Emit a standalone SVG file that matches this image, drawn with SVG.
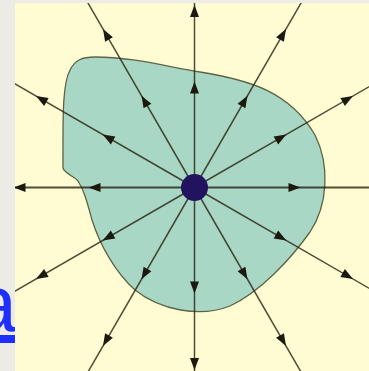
<svg xmlns="http://www.w3.org/2000/svg" width="369" height="371" viewBox="0 0 369 371">
  <defs>
    <style>
      .ray { stroke: #2a2614; stroke-opacity: 0.82; stroke-width: 1.5; fill: none; }
      .ray.h { stroke-width: 2.2; }
      .ah { fill: #1c1a10; }
      .link { font-family: "Liberation Sans", Arial, sans-serif; font-size: 80px; fill: #1f2fff; text-decoration: underline; }
    </style>
    <path id="ah" d="M6,0 L-6,-4.5 L-6,4.5 Z"/>
    <clipPath id="panel"><rect x="15" y="3" width="354" height="368"/></clipPath>
  </defs>

  <rect x="0" y="0" width="369" height="371" fill="#ecebe5"/>
  <text class="link" x="-27.5" y="331">a</text>
  <rect x="15" y="3" width="354" height="368" fill="#fffcd3"/>

  <g clip-path="url(#panel)">
    <g id="region">
      <path d="M63,168 C63,120 62,85 70,70 C75,60 82,57 95,57 C130,57 160,65 200,72 C250,80 290,92 315,135 C330,165 328,205 310,232 C290,260 260,292 230,306 C200,318 160,310 135,290 C115,272 100,245 92,220 C87,202 84,190 78,181 C74,176 65,174 63,168 Z" fill="#a9d7c5" stroke="#5d6444" stroke-width="1.3"/>
    </g>

    <g id="connectors">
      <line class="ray h" x1="194.5" y1="187.5" x2="400" y2="187.5"/>
      <line class="ray h" x1="194.5" y1="187.5" x2="0" y2="187.5"/>
      <line class="ray" x1="194.5" y1="187.5" x2="194.5" y2="400"/>
      <line class="ray" x1="194.5" y1="187.5" x2="194.5" y2="-20"/>
      <line class="ray" x1="194.5" y1="187.5" x2="454.3" y2="337.5"/>
      <line class="ray" x1="194.5" y1="187.5" x2="344.5" y2="447.3"/>
      <line class="ray" x1="194.5" y1="187.5" x2="44.5" y2="447.3"/>
      <line class="ray" x1="194.5" y1="187.5" x2="-65.3" y2="337.5"/>
      <line class="ray" x1="194.5" y1="187.5" x2="-65.3" y2="37.5"/>
      <line class="ray" x1="194.5" y1="187.5" x2="44.5" y2="-72.3"/>
      <line class="ray" x1="194.5" y1="187.5" x2="344.5" y2="-72.3"/>
      <line class="ray" x1="194.5" y1="187.5" x2="454.3" y2="37.5"/>

      <g class="ah">
        <use href="#ah" transform="translate(294.5,187.5) rotate(0)"/>
        <use href="#ah" transform="translate(281.1,237.5) rotate(30)"/>
        <use href="#ah" transform="translate(244.5,274.1) rotate(60)"/>
        <use href="#ah" transform="translate(194.5,287.5) rotate(90)"/>
        <use href="#ah" transform="translate(144.5,274.1) rotate(120)"/>
        <use href="#ah" transform="translate(107.9,237.5) rotate(150)"/>
        <use href="#ah" transform="translate(94.5,187.5) rotate(180)"/>
        <use href="#ah" transform="translate(107.9,137.5) rotate(210)"/>
        <use href="#ah" transform="translate(144.5,100.9) rotate(240)"/>
        <use href="#ah" transform="translate(194.5,87.5) rotate(270)"/>
        <use href="#ah" transform="translate(244.5,100.9) rotate(300)"/>
        <use href="#ah" transform="translate(281.1,137.5) rotate(330)"/>

        <use href="#ah" transform="translate(347.8,276) rotate(30)"/>
        <use href="#ah" transform="translate(283,340.8) rotate(60)"/>
        <use href="#ah" transform="translate(194.5,364) rotate(90)"/>
        <use href="#ah" transform="translate(106,340.8) rotate(120)"/>
        <use href="#ah" transform="translate(41.2,276) rotate(150)"/>
        <use href="#ah" transform="translate(19.5,187.5) rotate(180)"/>
        <use href="#ah" transform="translate(41.2,99) rotate(210)"/>
        <use href="#ah" transform="translate(106,34.2) rotate(240)"/>
        <use href="#ah" transform="translate(194.5,11) rotate(270)"/>
        <use href="#ah" transform="translate(283,34.2) rotate(300)"/>
        <use href="#ah" transform="translate(347.8,99) rotate(330)"/>
      </g>
    </g>

    <g id="charge">
      <circle cx="194.5" cy="187.5" r="13.5" fill="#22135f"/>
    </g>
  </g>
</svg>
